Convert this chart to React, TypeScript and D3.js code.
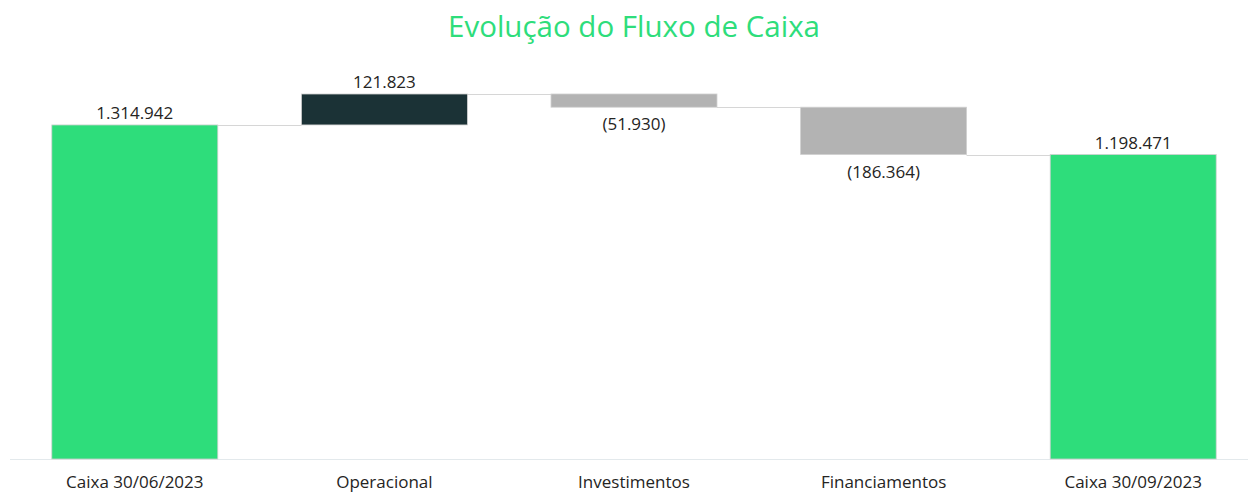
import React from "react";
import * as d3 from "d3";

const categories = ["Caixa 30/06/2023", "Operacional", "Investimentos", "Financiamentos", "Caixa 30/09/2023"];
const values = [1314942, 121823, -51930, -186364, 1198471];
const kinds = ["total", "delta", "delta", "delta", "total"];
const labels = ["1.314.942", "121.823", "(51.930)", "(186.364)", "1.198.471"];

const W = 1248;
const H = 493;

export default function App() {
  const x = d3.scaleBand<string>().domain(categories).range([10, 1258]).paddingInner(0.335).paddingOuter(0.1675);
  const y = d3.scaleLinear().domain([0, 1436765]).range([459, 94]);

  let running = 0;
  const bars = categories.map((c, i) => {
    let y0: number, y1: number;
    if (kinds[i] === "total") {
      y0 = 0; y1 = values[i]; running = values[i];
    } else {
      y0 = running; y1 = running + values[i]; running = y1;
    }
    return { c, i, y0, y1, end: running, v: values[i] };
  });

  const fill = (b: any) => (kinds[b.i] === "total" ? "#2edd7b" : b.v >= 0 ? "#1b3236" : "#b3b3b3");

  return (
    <svg width={W} height={H} style={{ position: "absolute", left: 0, top: 0, background: "#fff" }} fontFamily="'Open Sans', 'Noto Sans', sans-serif">
      <text x={634} y={37} textAnchor="middle" fontSize={29.5} fill="#2edd7b">Evolução do Fluxo de Caixa</text>
      <line x1={10} x2={W} y1={459.5} y2={459.5} stroke="#e3e9ec" strokeWidth={1} />
      {bars.slice(0, -1).map((b) => (
        <line key={"c" + b.i} x1={(x(b.c) as number) + x.bandwidth()} x2={x(categories[b.i + 1]) as number}
          y1={Math.round(y(b.end)) + 0.5} y2={Math.round(y(b.end)) + 0.5} stroke="#d6d6d6" strokeWidth={1} />
      ))}
      {bars.map((b) => {
        const top = y(Math.max(b.y0, b.y1));
        const bot = y(Math.min(b.y0, b.y1));
        return (
          <rect key={b.c} x={x(b.c)} y={top} width={x.bandwidth()} height={bot - top} fill={fill(b)} stroke="#d0d0d0" strokeWidth={0.8} />
        );
      })}
      {bars.map((b) => {
        const cx = (x(b.c) as number) + x.bandwidth() / 2;
        const pos = b.v >= 0;
        const ty = pos ? y(Math.max(b.y0, b.y1)) - 6 : y(Math.min(b.y0, b.y1)) + 23;
        return (
          <text key={"l" + b.c} x={cx} y={ty} textAnchor="middle" fontSize={17} fill="#252423">{labels[b.i]}</text>
        );
      })}
      {categories.map((c) => (
        <text key={"t" + c} x={(x(c) as number) + x.bandwidth() / 2} y={488} textAnchor="middle" fontSize={17} fill="#252423">{c}</text>
      ))}
    </svg>
  );
}
